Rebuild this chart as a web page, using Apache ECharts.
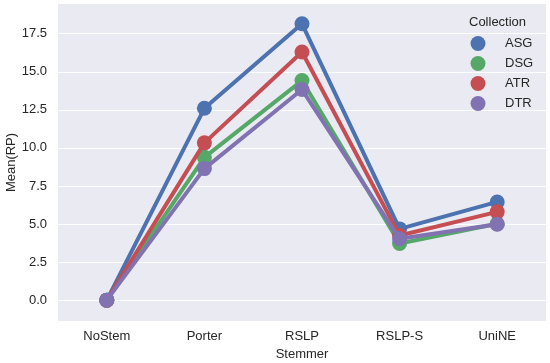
<!DOCTYPE html>
<html><head><meta charset="utf-8">
<script src="https://cdn.jsdelivr.net/npm/echarts@6/dist/echarts.min.js"></script>
<style>html,body{margin:0;padding:0;background:#fff}#c{width:550px;height:363px}</style>
</head><body><div id="c"></div>
<script>
const categories = ['NoStem','Porter','RSLP','RSLP-S','UniNE'];
const seriesNames = ['ASG','DSG','ATR','DTR'];
const ASG = [0, 12.6, 18.15, 4.68, 6.45];
const DSG = [0, 9.38, 14.42, 3.72, 5.02];
const ATR = [0, 10.33, 16.3, 4.25, 5.8];
const DTR = [0, 8.64, 13.83, 4.03, 4.98];
const yTicks = [0, 2.5, 5, 7.5, 10, 12.5, 15, 17.5];
const colors = ['#4C72B0','#55A868','#C44E52','#8172B2'];
const dataArr = [ASG, DSG, ATR, DTR];
const font = 'Liberation Sans, Arial, sans-serif';
const txt = '#262626';
const chart = echarts.init(document.getElementById('c'));
chart.setOption({
  animation: false,
  backgroundColor: '#fff',
  grid: {left: 58, right: 4, top: 4, bottom: 42, show: true, backgroundColor: '#EAEAF2', borderWidth: 0,
    containLabel: false, outerBoundsMode: 'none'},
  title: {text: 'Collection', left: 469, top: 16, padding: 0,
    textStyle: {fontFamily: font, fontSize: 13, fontWeight: 'normal', color: txt}},
  legend: {
    orient: 'vertical', left: 470.5, top: 36, padding: 0, itemWidth: 15, itemHeight: 15, itemGap: 5,
    icon: 'circle', data: seriesNames,
    textStyle: {fontFamily: font, fontSize: 13, color: txt, padding: [0, 0, 0, 14.5]}
  },
  xAxis: {
    type: 'category', data: categories, boundaryGap: true,
    name: 'Stemmer', nameLocation: 'middle', nameGap: 26.5, nameMoveOverlap: false,
    nameTextStyle: {fontFamily: font, fontSize: 13, color: txt},
    axisLine: {show: false}, axisTick: {show: false},
    splitLine: {show: false},
    axisLabel: {fontFamily: font, fontSize: 13, color: txt, margin: 9}
  },
  yAxis: {
    type: 'value', min: -1.37, max: 19.45,
    name: 'Mean(RP)', nameLocation: 'middle', nameGap: 40, nameMoveOverlap: false,
    nameTextStyle: {fontFamily: font, fontSize: 13, color: txt},
    axisLine: {show: false},
    axisTick: {show: false, customValues: yTicks},
    axisLabel: {fontFamily: font, fontSize: 13, color: txt, margin: 11, customValues: yTicks,
      formatter: v => v.toFixed(1)},
    splitLine: {show: true, lineStyle: {color: '#ffffff', width: 1.2}}
  },
  series: seriesNames.map((n, i) => ({
    name: n, type: 'line', data: dataArr[i],
    symbol: 'circle', symbolSize: 15, showSymbol: true,
    itemStyle: {color: colors[i]},
    lineStyle: {color: colors[i], width: 4},
    z: 2 + i
  }))
});
</script></body></html>
